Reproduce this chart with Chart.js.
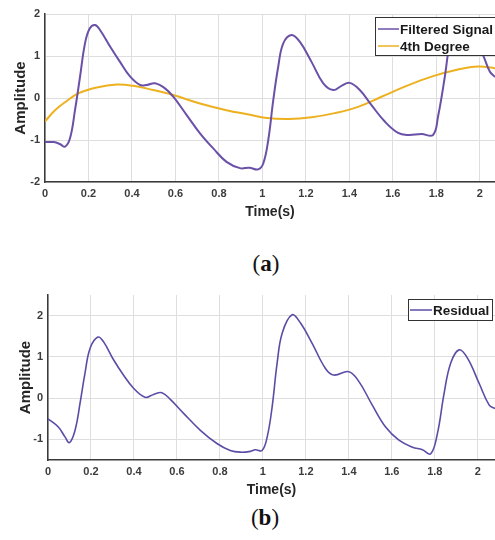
<!DOCTYPE html>
<html>
<head>
<meta charset="utf-8">
<script src="https://cdn.jsdelivr.net/npm/chart.js@4"></script>
<style>
  html, body { margin: 0; padding: 0; background: #fff; }
  body { width: 495px; height: 540px; position: relative; overflow: hidden; }
  canvas { position: absolute; left: 0; }
  .cap { position: absolute; font-family: "Liberation Serif", "DejaVu Serif", serif; font-size: 23px; color: #111; transform: translateX(-50%); white-space: nowrap; }
  .cap b { font-weight: bold; }
</style>
</head>
<body>
<canvas id="c1" width="495" height="225" style="top:0px"></canvas>
<div class="cap" style="left:266px; top:251px;">(<b>a</b>)</div>
<canvas id="c2" width="495" height="220" style="top:280px"></canvas>
<div class="cap" style="left:265px; top:505px;">(<b>b</b>)</div>
<script>
// ---------- data ----------
const filteredT = [0, 0.04, 0.07, 0.092, 0.115, 0.138, 0.161, 0.184, 0.205, 0.23, 0.253, 0.3, 0.345, 0.39, 0.437, 0.468, 0.506, 0.552, 0.59, 0.651, 0.713, 0.774, 0.835, 0.897, 0.94, 0.98, 1.004, 1.027, 1.05, 1.073, 1.096, 1.134, 1.172, 1.226, 1.28, 1.326, 1.364, 1.402, 1.448, 1.502, 1.563, 1.624, 1.67, 1.732, 1.785, 1.808, 1.839, 1.862, 1.89, 1.92, 1.96, 2.015, 2.046, 2.07];
const filteredV = [-1.05, -1.05, -1.1, -1.16, -0.96, -0.29, 0.5, 1.3, 1.65, 1.74, 1.62, 1.22, 0.86, 0.52, 0.31, 0.31, 0.35, 0.23, 0.03, -0.4, -0.84, -1.2, -1.52, -1.67, -1.66, -1.7, -1.56, -1.0, -0.05, 0.75, 1.3, 1.5, 1.34, 0.86, 0.35, 0.19, 0.29, 0.36, 0.19, -0.17, -0.56, -0.83, -0.88, -0.86, -0.88, -0.44, 0.5, 1.3, 1.75, 1.85, 1.6, 1.02, 0.63, 0.5];

const degreeT = [0, 0.046, 0.1, 0.153, 0.238, 0.33, 0.406, 0.498, 0.59, 0.713, 0.835, 0.943, 1.01, 1.12, 1.226, 1.333, 1.44, 1.548, 1.655, 1.778, 1.9, 1.993, 2.07];
const degreeV = [-0.56, -0.29, -0.07, 0.11, 0.25, 0.32, 0.29, 0.19, 0.07, -0.13, -0.29, -0.4, -0.47, -0.5, -0.46, -0.36, -0.21, 0.03, 0.27, 0.51, 0.68, 0.75, 0.71];

const residualT = [0, 0.048, 0.079, 0.1, 0.126, 0.149, 0.172, 0.196, 0.232, 0.258, 0.305, 0.351, 0.398, 0.452, 0.491, 0.53, 0.569, 0.631, 0.709, 0.786, 0.848, 0.895, 0.942, 0.965, 0.996, 1.02, 1.043, 1.066, 1.09, 1.136, 1.175, 1.229, 1.291, 1.33, 1.4, 1.447, 1.509, 1.571, 1.633, 1.696, 1.742, 1.781, 1.812, 1.843, 1.874, 1.913, 1.952, 2.006, 2.053, 2.08];
const residualV = [-0.5, -0.7, -0.94, -1.08, -0.78, -0.13, 0.6, 1.21, 1.48, 1.37, 0.93, 0.56, 0.24, 0.02, 0.09, 0.13, -0.03, -0.37, -0.78, -1.1, -1.27, -1.31, -1.29, -1.25, -1.27, -0.94, -0.21, 0.84, 1.58, 2.02, 1.82, 1.33, 0.72, 0.56, 0.64, 0.4, -0.17, -0.7, -1.02, -1.19, -1.25, -1.35, -0.86, 0.11, 0.85, 1.17, 0.97, 0.36, -0.17, -0.25];

const xTicks = [0, 0.2, 0.4, 0.6, 0.8, 1, 1.2, 1.4, 1.6, 1.8, 2];
const yTicksA = [-2, -1, 0, 1, 2];
const yTicksB = [-1, 0, 1, 2];
const labelsA = ['Filtered Signal', '4th Degree'];
const labelsB = ['Residual'];

// ---------- helpers ----------
const pts = (t, v) => t.map((x, i) => ({ x: x, y: v[i] }));
const fmt = v => String(Math.round(v * 10) / 10);
const FONT = '"Liberation Sans", Arial, sans-serif';
const tickFont = { family: FONT, size: 11, weight: 'bold' };
const titleFont = { family: FONT, size: 14, weight: 'bold' };
const ampFont = { family: FONT, size: 15, weight: 'bold' };

const boxLegend = {
  id: 'boxLegend',
  afterDraw(chart, args, o) {
    const ctx = chart.ctx;
    ctx.save();
    ctx.fillStyle = '#ffffff';
    ctx.fillRect(o.x, o.y, o.w, o.h);
    ctx.strokeStyle = '#333333';
    ctx.lineWidth = 1;
    ctx.strokeRect(o.x + 0.5, o.y + 0.5, o.w, o.h);
    ctx.font = 'bold ' + o.fontSize + 'px ' + FONT;
    ctx.textBaseline = 'middle';
    ctx.textAlign = 'left';
    chart.data.datasets.forEach((ds, i) => {
      const yy = o.y + o.rowTop + i * o.rowH;
      ctx.strokeStyle = ds.borderColor;
      ctx.lineWidth = 1.5;
      ctx.beginPath();
      ctx.moveTo(o.x + o.lx0, yy);
      ctx.lineTo(o.x + o.lx1, yy);
      ctx.stroke();
      ctx.fillStyle = '#1a1a1a';
      ctx.fillText(ds.label, o.x + o.tx, yy + 1);
    });
    ctx.restore();
  }
};

function makeOptions(cfg) {
  return {
    responsive: false,
    animation: false,
    layout: { padding: { top: cfg.padTop, right: 0, left: 0, bottom: 0 } },
    elements: { point: { radius: 0 }, line: { tension: 0.4 } },
    plugins: { legend: { display: false }, tooltip: { enabled: false }, boxLegend: cfg.legend },
    scales: {
      x: {
        type: 'linear', min: 0, max: cfg.xMax,
        afterBuildTicks: s => { s.ticks = xTicks.map(v => ({ value: v })); },
        afterFit: s => { s.height = cfg.xAxisH; },
        ticks: { font: tickFont, color: '#3c3c3c', padding: 5, callback: v => fmt(v), maxRotation: 0, autoSkip: false },
        grid: { color: '#dedede', lineWidth: 1, drawTicks: false },
        border: { color: '#3a3a3a', width: 1.5 },
        title: { display: true, text: 'Time(s)', font: titleFont, color: '#262626', padding: { top: 0, bottom: cfg.xTitlePad } }
      },
      y: {
        type: 'linear', min: cfg.yMin, max: cfg.yMax,
        afterBuildTicks: s => { s.ticks = cfg.yTicks.map(v => ({ value: v })); },
        afterFit: s => { s.width = cfg.yAxisW; },
        ticks: { font: tickFont, color: '#3c3c3c', padding: 5, callback: v => fmt(v) },
        grid: { color: '#dedede', lineWidth: 1, drawTicks: false },
        border: { color: '#3a3a3a', width: 1.5 },
        title: { display: true, text: 'Amplitude', font: ampFont, color: '#262626', padding: { top: cfg.yTitlePad, bottom: 0 } }
      }
    }
  };
}

new Chart(document.getElementById('c1'), {
  type: 'line',
  data: {
    datasets: [
      { label: labelsA[0], data: pts(filteredT, filteredV), borderColor: '#6a50a7', borderWidth: 2, fill: false },
      { label: labelsA[1], data: pts(degreeT, degreeV), borderColor: '#edb120', borderWidth: 2, fill: false }
    ]
  },
  options: makeOptions({
    padTop: 14, xMax: 2.07, yMin: -2, yMax: 2, yTicks: yTicksA,
    xAxisH: 43, yAxisW: 45, xTitlePad: 4, yTitlePad: 12,
    legend: { x: 375, y: 17, w: 125, h: 38, rowTop: 12, rowH: 17, lx0: 3, lx1: 24, tx: 25, fontSize: 13.5 }
  }),
  plugins: [boxLegend]
});

new Chart(document.getElementById('c2'), {
  type: 'line',
  data: {
    datasets: [
      { label: labelsB[0], data: pts(residualT, residualV), borderColor: '#5b4ca6', borderWidth: 1.6, fill: false }
    ]
  },
  options: makeOptions({
    padTop: 15, xMax: 2.08, yMin: -1.5, yMax: 2.5, yTicks: yTicksB,
    xAxisH: 40, yAxisW: 48, xTitlePad: 1, yTitlePad: 17,
    legend: { x: 408, y: 19, w: 84, h: 21, rowTop: 11, rowH: 17, lx0: 2, lx1: 24, tx: 25, fontSize: 13.5 }
  }),
  plugins: [boxLegend]
});
</script>
</body>
</html>
